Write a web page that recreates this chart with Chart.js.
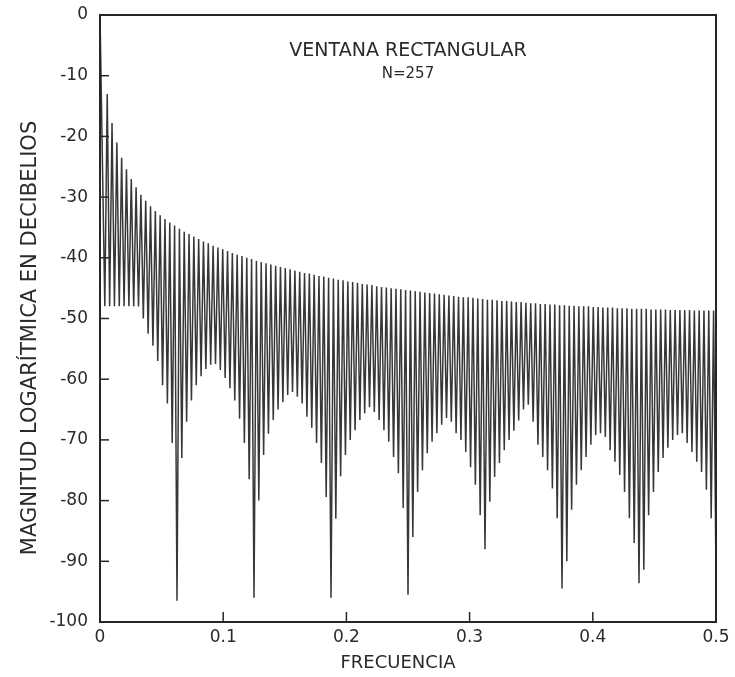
<!DOCTYPE html>
<html>
<head>
<meta charset="utf-8">
<title>Ventana rectangular N=257</title>
<script src="https://cdn.jsdelivr.net/npm/chart.js@4.4.1/dist/chart.umd.min.js"></script>
<style>
  html, body { margin: 0; padding: 0; background: #fff; }
  #wrap { width: 735px; height: 677px; }
</style>
</head>
<body>
<div id="wrap"><canvas id="espectro" width="735" height="677"></canvas></div>
<script>
// textos de la figura
var titulo = ['VENTANA RECTANGULAR', 'N=257'];
var tituloX = 'FRECUENCIA';
var tituloY = 'MAGNITUD LOGARÍTMICA EN DECIBELIOS';

var yTicks = [0, -10, -20, -30, -40, -50, -60, -70, -80, -90, -100];
var xTicks = [0, 0.1, 0.2, 0.3, 0.4, 0.5];

// separacion entre un minimo y el siguiente (frecuencia)
var pasoFrecuencia = 1 / 256;
var picoPrincipal = 0;

// fondo de cada lobulo (dB), 8 grupos de 16
var minimos = [
    -48, -48, -48, -48, -48, -48, -48, -48, -50, -52.5, -54.5, -57, -61, -64, -70.5, -96.5,
    -73, -67, -63.5, -61, -59.5, -58.3, -57.6, -57.5, -58.5, -59.8, -61.5, -63.5, -66.5, -70.5, -76.5, -96,
    -80, -72.5, -69, -66.7, -65, -63.8, -62.6, -62.1, -62.9, -64, -66.2, -68, -70.5, -73.8, -79.4, -96,
    -83, -76, -72.5, -70, -68.4, -66.7, -65.6, -64.6, -65.4, -66.7, -68.4, -70.3, -72.8, -75.5, -81.2, -95.5,
    -86, -78.6, -75, -72.2, -70.3, -68.9, -67.5, -66.4, -67, -68.9, -70, -72, -74.5, -77.4, -82.4, -88,
    -80.2, -76.1, -73.8, -71.7, -70, -68.5, -66.8, -65, -64.2, -67, -70.8, -72.8, -75, -78, -82.9, -94.5,
    -90, -81.5, -77.4, -75, -72.8, -70.8, -69.2, -68.9, -69.5, -71.7, -73.6, -75.8, -78.6, -82.9, -87, -93.6,
    -91.4, -82.4, -78.6, -75.3, -73, -71.3, -70, -69.2, -68.9, -70.5, -72, -73.6, -75.3, -78.2, -82.9, -92.6
];

// cresta de cada lobulo lateral (dB), entre dos minimos
var maximos = [
    -13, -17.8, -21, -23.5, -25.4, -27, -28.4, -29.6, -30.6, -31.5, -32.3, -33, -33.6, -34.2, -34.7, -35.2,
    -35.7, -36.1, -36.5, -36.9, -37.3, -37.6, -38, -38.3, -38.6, -38.9, -39.2, -39.5, -39.7, -40, -40.2, -40.5,
    -40.7, -40.9, -41.1, -41.3, -41.5, -41.7, -41.9, -42.1, -42.3, -42.5, -42.6, -42.8, -43, -43.1, -43.3, -43.4,
    -43.6, -43.7, -43.9, -44, -44.1, -44.3, -44.4, -44.5, -44.7, -44.8, -44.9, -45, -45.1, -45.2, -45.3, -45.4,
    -45.5, -45.6, -45.7, -45.8, -45.9, -46, -46.1, -46.2, -46.3, -46.4, -46.5, -46.5, -46.6, -46.7, -46.8, -46.9,
    -46.9, -47, -47.1, -47.1, -47.2, -47.3, -47.3, -47.4, -47.5, -47.5, -47.6, -47.6, -47.7, -47.7, -47.8, -47.8,
    -47.9, -47.9, -48, -48, -48, -48.1, -48.1, -48.2, -48.2, -48.2, -48.3, -48.3, -48.3, -48.4, -48.4, -48.4,
    -48.4, -48.5, -48.5, -48.5, -48.5, -48.6, -48.6, -48.6, -48.6, -48.6, -48.7, -48.7, -48.7, -48.7, -48.7
];

var puntos = [{ x: 0, y: picoPrincipal }];
for (var k = 0; k < minimos.length; k++) {
    puntos.push({ x: (k + 1) * pasoFrecuencia, y: minimos[k] });
    if (k < maximos.length) {
        puntos.push({ x: (k + 1.5) * pasoFrecuencia, y: maximos[k] });
    }
}

var fuente = '"DejaVu Sans", "Liberation Sans", sans-serif';
Chart.defaults.font.family = fuente;
Chart.defaults.font.size = 17;
Chart.defaults.color = '#2a2a2a';

// marco completo, marcas hacia dentro, rotulos y titulos de ejes
var marco = {
    id: 'marco',
    afterDraw: function (chart) {
        var ctx = chart.ctx, a = chart.chartArea;
        var sx = chart.scales.x, sy = chart.scales.y;
        ctx.save();
        ctx.strokeStyle = '#262626';
        ctx.lineWidth = 1.5;
        yTicks.forEach(function (v) {
            var py = sy.getPixelForValue(v);
            ctx.beginPath();
            ctx.moveTo(a.left, py);
            ctx.lineTo(a.left + 9, py);
            ctx.stroke();
        });
        xTicks.slice(1, -1).forEach(function (v) {
            var px = sx.getPixelForValue(v);
            ctx.beginPath();
            ctx.moveTo(px, a.bottom);
            ctx.lineTo(px, a.bottom - 10);
            ctx.stroke();
        });
        ctx.lineWidth = 2;
        ctx.strokeRect(a.left, a.top, a.right - a.left, a.bottom - a.top);

        ctx.fillStyle = '#2a2a2a';
        ctx.textAlign = 'center';
        ctx.textBaseline = 'alphabetic';
        var cx = sx.getPixelForValue(0.25);
        ctx.font = '19px ' + fuente;
        ctx.fillText(titulo[0], cx, a.top + 41);
        ctx.font = '15px ' + fuente;
        ctx.fillText(titulo[1], cx, a.top + 63);

        ctx.textBaseline = 'middle';
        ctx.font = '18px ' + fuente;
        ctx.fillText(tituloX, 398, 663);

        ctx.translate(31, 338);
        ctx.rotate(-Math.PI / 2);
        ctx.font = '21px ' + fuente;
        ctx.fillText(tituloY, 0, 0);
        ctx.restore();
    }
};

var ctx_ = document.getElementById('espectro').getContext('2d');
var grafica = new Chart(ctx_, {
    type: 'line',
    data: {
        datasets: [{
            data: puntos,
            borderColor: 'rgba(38, 38, 38, 0.92)',
            borderWidth: 1.5,
            pointRadius: 0,
            tension: 0,
            fill: false
        }]
    },
    options: {
        responsive: false,
        animation: false,
        layout: { padding: { top: 15, right: 19, left: 0, bottom: 0 } },
        plugins: {
            legend: { display: false },
            tooltip: { enabled: false }
        },
        scales: {
            x: {
                type: 'linear',
                min: 0,
                max: 0.5,
                afterBuildTicks: function (s) {
                    s.ticks = xTicks.map(function (v) { return { value: v }; });
                },
                afterFit: function (s) { s.height = 55; },
                grid: { display: true, drawOnChartArea: false, drawTicks: false },
                border: { display: true, color: '#262626', width: 2 },
                ticks: {
                    padding: 5,
                    maxRotation: 0,
                    callback: function (v) { return v === 0 ? '0' : v.toFixed(1); }
                }
            },
            y: {
                type: 'linear',
                min: -100,
                max: 0,
                afterBuildTicks: function (s) {
                    s.ticks = yTicks.map(function (v) { return { value: v }; });
                },
                afterFit: function (s) {
                    s.width = 100;
                    s.paddingTop = 0;
                    s.paddingBottom = 0;
                },
                grid: { display: true, drawOnChartArea: false, drawTicks: false },
                border: { display: true, color: '#262626', width: 2 },
                ticks: {
                    padding: 12,
                    callback: function (v) { return String(v); }
                }
            }
        }
    },
    plugins: [marco]
});
</script>
</body>
</html>
